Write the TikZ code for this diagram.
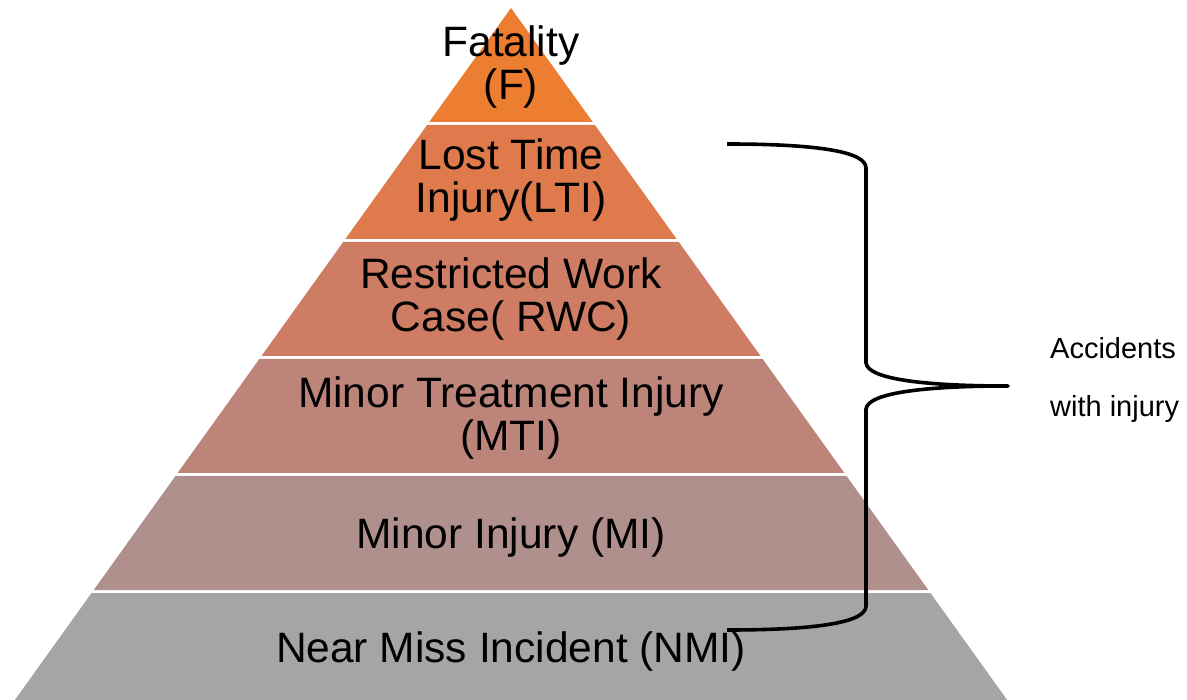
\documentclass[tikz,border=0pt]{standalone}
\usepackage{fontspec}
\setmainfont{Liberation Sans}
\usetikzlibrary{positioning}

\definecolor{bandF}{HTML}{ED7D31}
\definecolor{bandLTI}{HTML}{DE7A4B}
\definecolor{bandRWC}{HTML}{CE7D64}
\definecolor{bandMTI}{HTML}{BD857A}
\definecolor{bandMI}{HTML}{B0908D}
\definecolor{bandNMI}{HTML}{A5A5A5}

\begin{document}
\begin{tikzpicture}[
      x=1pt, y=-1pt,
      level/.style={anchor=base,align=center,inner sep=0pt,font=\fontsize{42.5}{43}\selectfont},
      note/.style={anchor=base west,align=left,inner sep=0pt,font=\fontsize{29}{58}\selectfont},
      brace/.style={line width=3.6pt,line join=round}
    ]
        \useasboundingbox (0,0) rectangle (1187,700);
        \clip (0,0) rectangle (1187,700);
        % bands of the pyramid, top to bottom
        \foreach \k/\col in {0/bandF,1/bandLTI,2/bandRWC,3/bandMTI,4/bandMI,5/bandNMI}{
            \pgfmathsetmacro\yt{8+117*\k}
            \pgfmathsetmacro\yb{\yt+114}
            \pgfmathsetmacro\wt{0.717*(\yt-8)}
            \pgfmathsetmacro\wb{0.717*(\yb-8)}
            \fill[\col] (511-\wt,\yt) -- (511+\wt,\yt) -- (511+\wb,\yb) -- (511-\wb,\yb) -- cycle;
        }
        % base anchor is on the last line
        \node[level] (f) at (511,100) {Fatality\\(F)};
        \node[level] (lti) at (511,213) {Lost Time\\Injury(LTI)};
        \node[level] (rwc) at (511,332) {Restricted Work\\Case( RWC)};
        \node[level] (mti) at (511,451) {Minor Treatment Injury\\(MTI)};
        \node[level] (mi) at (511,548) {Minor Injury (MI)};
        \node[level] (nmi) at (511,662) {Near Miss Incident (NMI)};
        \node[note] (acc) at (1050,417) {Accidents\\with injury};
        % brace
        \coordinate (top) at (727,144);
        \coordinate (tip) at (1008,386);
        \coordinate (bot) at (727,630);
        \draw[brace] (top) .. controls (820,144) and (866,152) .. (866,168)
            -- (866,363) .. controls (868,380) and (930,386) .. (tip)
            .. controls (930,386) and (868,392) .. (866,409)
            -- (866,606) .. controls (866,622) and (820,630) .. (bot);
    \end{tikzpicture}
\end{document}
